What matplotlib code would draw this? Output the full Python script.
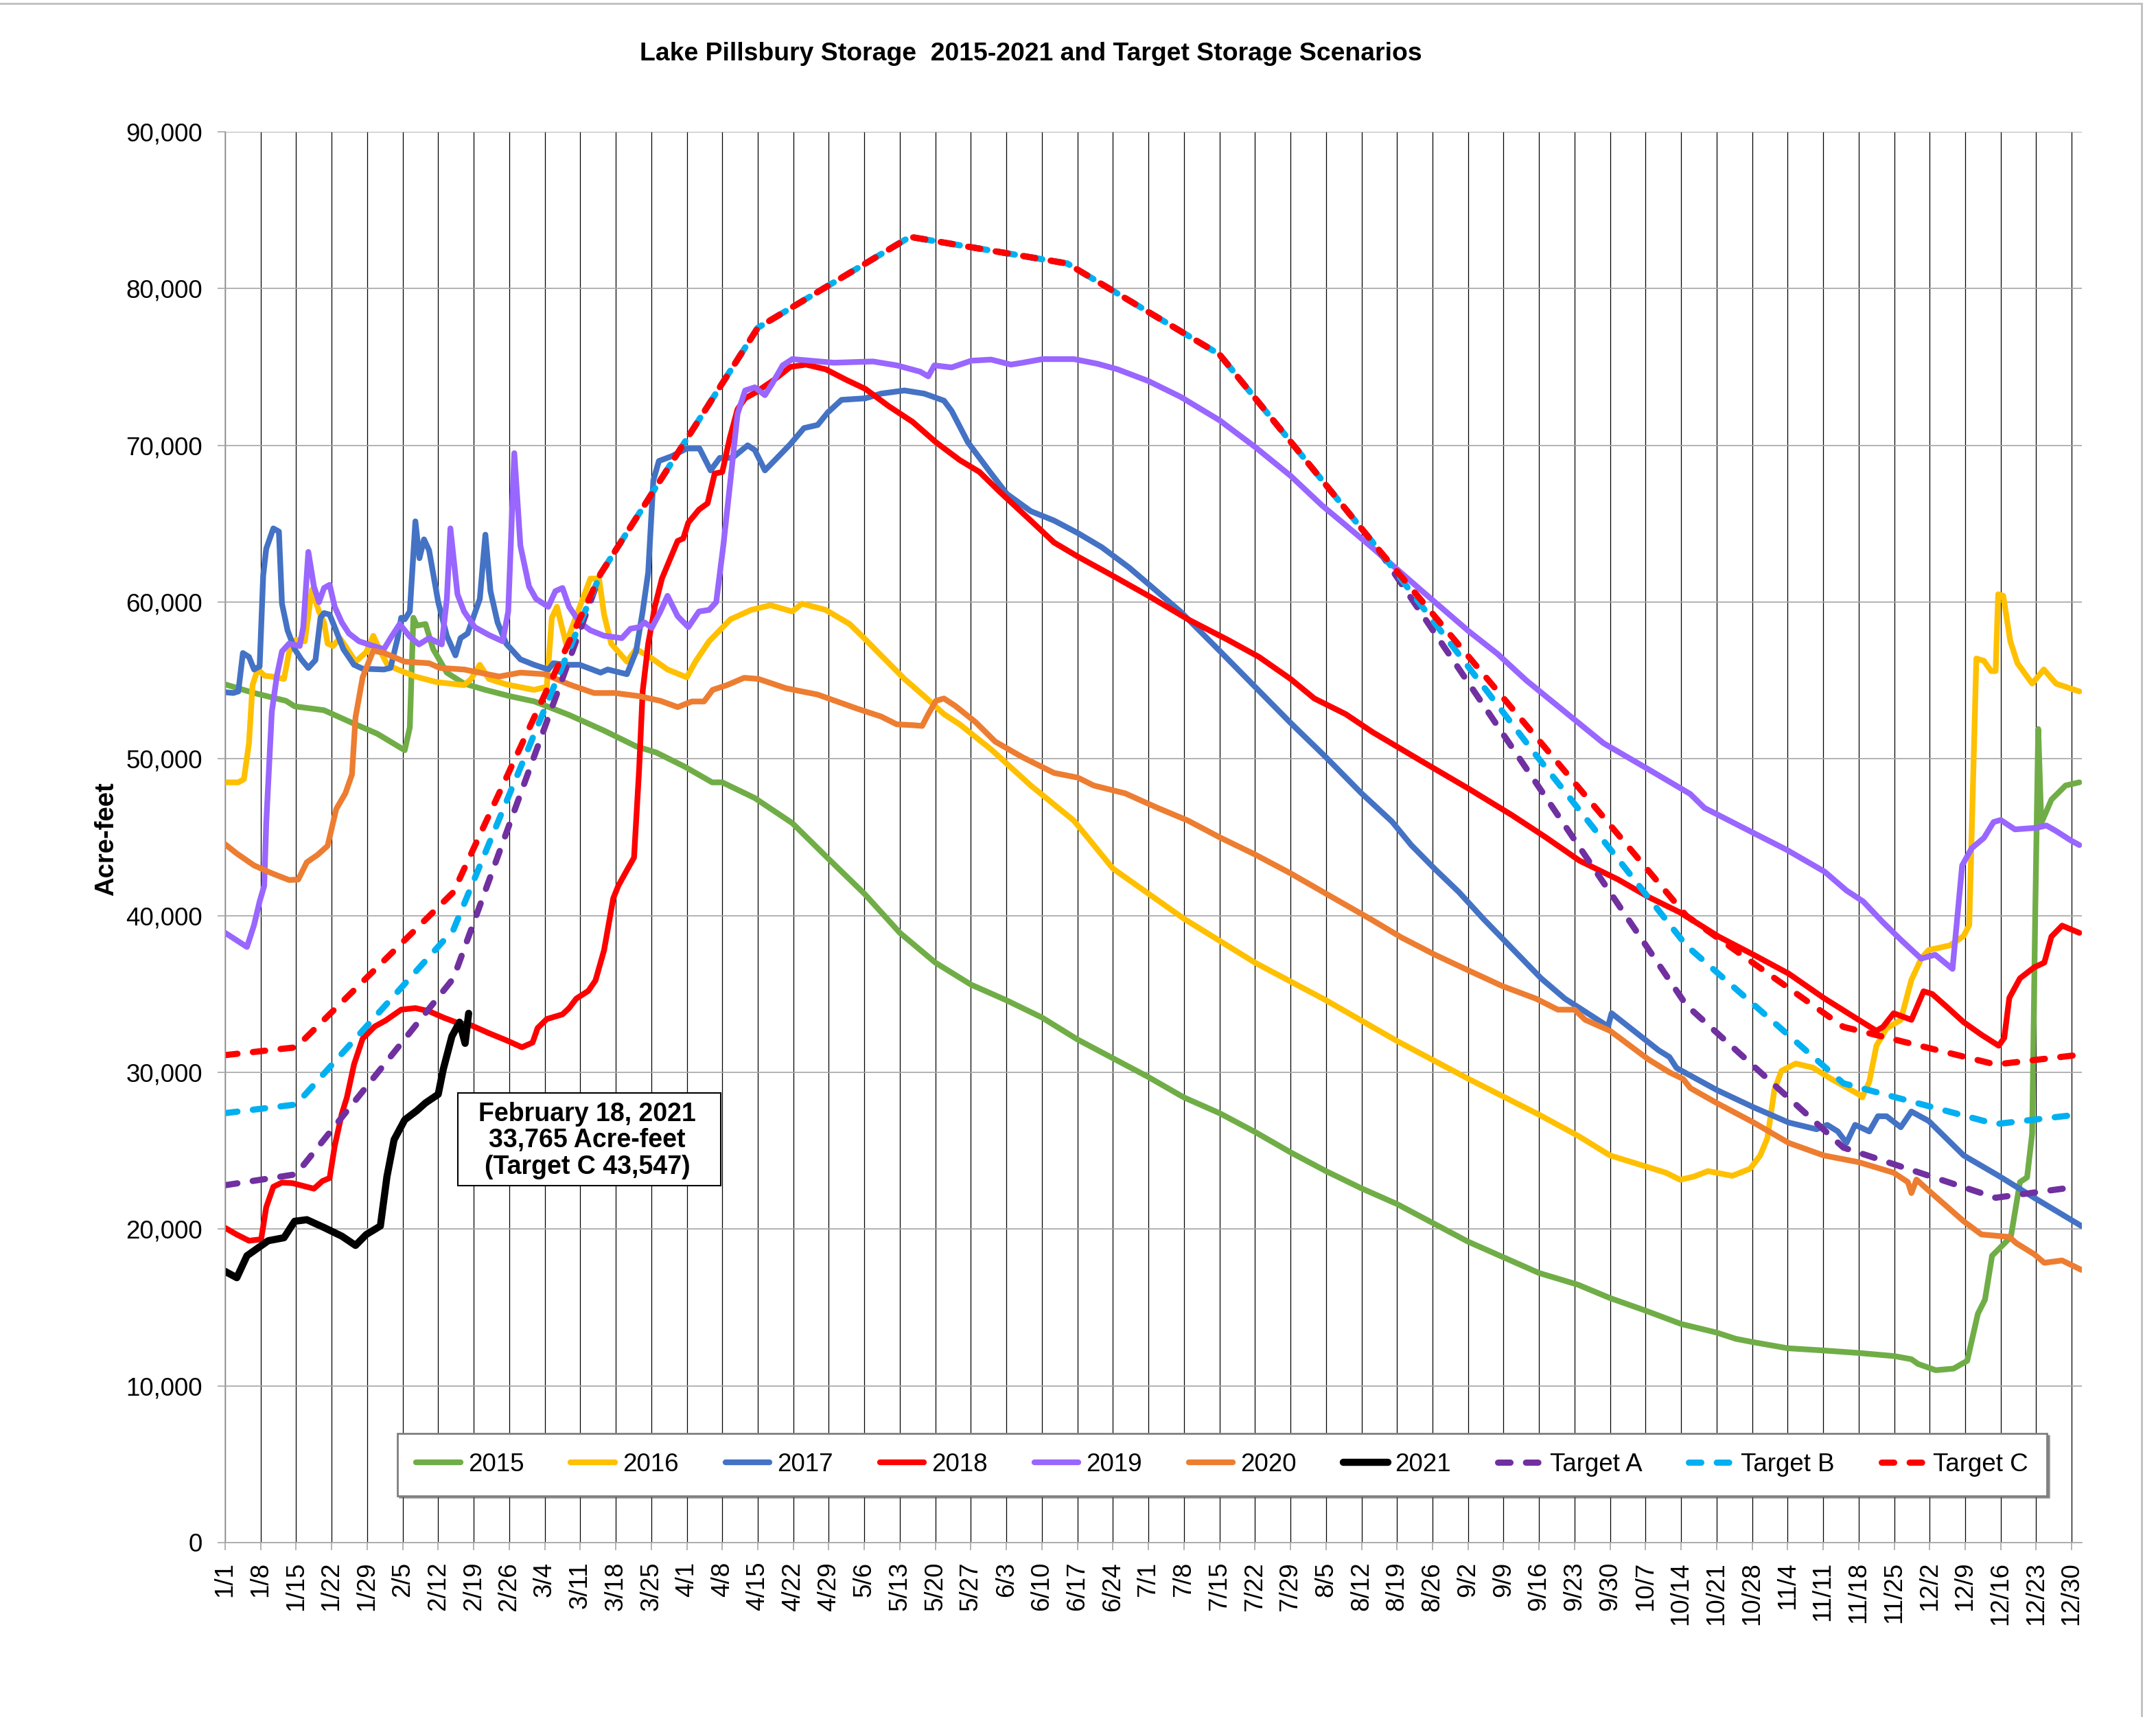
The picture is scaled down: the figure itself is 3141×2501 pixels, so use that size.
import matplotlib.pyplot as plt
from matplotlib.patches import Rectangle
from matplotlib.ticker import FuncFormatter

plt.rcParams['font.family'] = ['Liberation Sans', 'DejaVu Sans']

# x = day of year (1/1 = 0, leap-year calendar), y = storage in thousand acre-feet
tick_labels = ['1/1', '1/8', '1/15', '1/22', '1/29', '2/5', '2/12', '2/19', '2/26',
               '3/4', '3/11', '3/18', '3/25', '4/1', '4/8', '4/15', '4/22', '4/29',
               '5/6', '5/13', '5/20', '5/27', '6/3', '6/10', '6/17', '6/24', '7/1',
               '7/8', '7/15', '7/22', '7/29', '8/5', '8/12', '8/19', '8/26', '9/2',
               '9/9', '9/16', '9/23', '9/30', '10/7', '10/14', '10/21', '10/28',
               '11/4', '11/11', '11/18', '11/25', '12/2', '12/9', '12/16', '12/23', '12/30']
tick_days = [7 * i for i in range(len(tick_labels))]

s2015 = [(0, 54.75), (5.7, 54.2), (12, 53.7), (13.7, 53.35), (19.5, 53.1), (25, 52.3), (30, 51.6),
         (35.4, 50.55), (36.4, 52.0), (37.1, 59.0), (37.8, 58.5), (39.5, 58.6), (41, 57.0), (43.7, 55.5),
         (47.1, 54.8), (51.3, 54.4), (56.1, 54.0), (61, 53.66), (67.8, 52.8), (74.7, 51.8), (81, 50.8),
         (85, 50.4), (90.6, 49.5), (96, 48.5), (98, 48.5), (104.4, 47.5), (111.8, 45.9), (119, 43.6),
         (126, 41.4), (133, 38.9), (140, 37.0), (147, 35.6), (154, 34.6), (161, 33.5), (168, 32.1),
         (175, 30.9), (182, 29.7), (189, 28.4), (196, 27.4), (203, 26.2), (210, 24.9), (217, 23.7),
         (224, 22.6), (231, 21.6), (238, 20.4), (245, 19.2), (252, 18.2), (259, 17.2), (266.7, 16.45),
         (273, 15.6), (280, 14.8), (287, 13.95), (294, 13.4), (297.8, 13.0), (301, 12.8), (308, 12.4),
         (315, 12.26), (322, 12.1), (329, 11.9), (332.4, 11.7), (333.7, 11.4), (337.2, 11.0), (340.7, 11.1),
         (343.4, 11.6), (345.5, 14.6), (346.9, 15.5), (348.3, 18.3), (352, 19.5), (353.8, 23.0),
         (355.2, 23.3), (356.2, 26.1), (356.8, 40.0), (357.4, 51.9), (358, 45.9), (360, 47.4),
         (362.8, 48.3), (365.5, 48.5)]

s2016 = [(0, 48.5), (2.6, 48.5), (3.7, 48.7), (4.7, 51.0), (5.4, 54.7), (6.4, 55.7), (7.8, 55.3),
         (9.2, 55.25), (11.6, 55.1), (12.6, 56.8), (14.0, 57.6), (15.7, 57.5), (17.1, 60.8), (18.5, 59.4),
         (19.5, 58.7), (20.2, 57.35), (21.3, 57.2), (22.6, 57.7), (23.7, 57.2), (25.7, 56.2), (27.8, 56.8),
         (29.2, 57.85), (30.6, 56.85), (32.0, 56.0), (34.0, 55.7), (37.5, 55.25), (41.6, 54.9), (47.1, 54.7),
         (48.5, 55.1), (50.2, 56.0), (52.0, 55.1), (55.4, 54.75), (60.9, 54.4), (63.4, 54.6), (64.4, 59.0),
         (65.4, 59.7), (67.2, 57.35), (69.9, 59.7), (72, 61.5), (73.7, 61.5), (74.7, 59.2), (76.1, 57.35),
         (79.2, 56.2), (81, 57.0), (83.7, 56.5), (87.2, 55.7), (91, 55.2), (92.7, 56.2), (95.4, 57.5),
         (99.6, 58.9), (103.7, 59.5), (107.5, 59.8), (111.8, 59.4), (113.7, 59.9), (118.4, 59.5),
         (123.1, 58.6), (125.8, 57.75), (129.3, 56.6), (133.9, 55.1), (137.8, 54.0), (141.7, 52.85),
         (144.8, 52.2), (151, 50.6), (158.8, 48.3), (167.3, 46.06), (175, 43.0), (189, 39.8), (203, 37.0),
         (217, 34.6), (231, 32.0), (245, 29.6), (259, 27.3), (266.7, 25.95), (273, 24.7), (280, 24.0),
         (284, 23.6), (286.8, 23.15), (289.5, 23.35), (292.3, 23.7), (297.1, 23.4), (300.6, 23.85),
         (302.6, 24.7), (304, 25.8), (305.4, 28.9), (306.8, 30.1), (309.6, 30.56), (313, 30.3),
         (316.5, 29.6), (322, 28.6), (322.7, 28.4), (324.1, 29.4), (325.5, 31.7), (327.5, 32.8),
         (330.3, 33.35), (332.4, 35.9), (334.4, 37.3), (335.8, 37.8), (340, 38.1), (342.7, 38.7),
         (343.8, 39.4), (345.2, 56.4), (346.7, 56.25), (348.1, 55.6), (349, 55.6), (349.5, 60.5),
         (350.5, 60.4), (351.9, 57.5), (353.3, 56.1), (356.2, 54.8), (358.5, 55.7), (360.9, 54.8),
         (365.5, 54.3)]

s2017 = [(0, 54.25), (1.6, 54.2), (2.6, 54.3), (3.5, 56.75), (4.7, 56.5), (5.7, 55.7), (6.8, 55.9),
         (7.5, 61.7), (8.1, 63.4), (9.5, 64.7), (10.6, 64.5), (11.2, 59.9), (12.3, 58.2), (13.7, 57.0),
         (15, 56.35), (16.4, 55.8), (17.8, 56.3), (18.8, 59.0), (19.5, 59.3), (20.6, 59.2), (21.6, 58.4),
         (23.3, 57.0), (25.4, 56.0), (27.1, 55.75), (31.3, 55.7), (32.6, 55.8), (34.0, 57.7), (34.7, 59.0),
         (35.4, 58.9), (36.4, 59.4), (37.5, 65.15), (38.3, 62.8), (39.2, 64.0), (40.2, 63.3), (42, 60.0),
         (43.7, 57.85), (45.4, 56.6), (46.4, 57.7), (47.8, 58.0), (50.2, 60.2), (51.3, 64.3), (52.3, 60.7),
         (53.7, 58.7), (55.4, 57.35), (58.2, 56.35), (60.9, 56.0), (63.7, 55.7), (64.7, 56.1), (67.2, 56.0),
         (69.9, 56.0), (74, 55.5), (75.4, 55.7), (79.2, 55.4), (81, 56.85), (82.3, 59.4), (83.4, 61.9),
         (84.4, 67.75), (85.5, 69.0), (88, 69.3), (91, 69.8), (93.5, 69.8), (95.7, 68.4), (97.5, 69.2),
         (100, 69.2), (103, 70.0), (104.4, 69.7), (106.4, 68.4), (109.1, 69.3), (111.4, 70.07),
         (114.1, 71.1), (116.8, 71.3), (118.8, 72.1), (121.5, 72.9), (126.2, 73.0), (129.3, 73.3),
         (133.9, 73.5), (137.8, 73.3), (141.7, 72.85), (143.2, 72.2), (146.4, 70.2), (151, 68.2),
         (154.1, 66.9), (158.8, 65.8), (163.4, 65.2), (168.1, 64.4), (172.8, 63.5), (178.2, 62.2),
         (182, 61.15), (188.3, 59.4), (196, 56.9), (203, 54.6), (210, 52.3), (217, 50.1), (224, 47.8),
         (230, 46.0), (233.8, 44.5), (238.5, 42.96), (243.2, 41.5), (248, 39.8), (253.7, 37.9),
         (259.4, 36.0), (264.1, 34.7), (267, 34.1), (272.6, 32.93), (273.3, 33.77), (277.1, 32.8),
         (282.6, 31.4), (284.7, 30.98), (286.1, 30.28), (294, 28.88), (301.3, 27.77), (308.2, 26.8),
         (313.7, 26.37), (315.8, 26.65), (317.9, 26.23), (319.6, 25.5), (321.3, 26.65), (324.1, 26.23),
         (325.8, 27.2), (327.5, 27.2), (330.3, 26.5), (332.4, 27.5), (335.8, 26.9), (342.7, 24.7),
         (349.6, 23.4), (356.6, 22.0), (365.9, 20.2)]

s2018 = [(0, 20.08), (2.3, 19.65), (4.7, 19.26), (7.1, 19.35), (8.1, 21.4), (9.5, 22.7), (11.2, 22.97),
         (13.3, 22.93), (17.5, 22.58), (19.2, 23.07), (20.6, 23.26), (21.6, 25.3), (23, 27.36), (24, 28.4),
         (25.4, 30.5), (27.1, 32.15), (29.5, 32.93), (31.6, 33.3), (34.7, 34.0), (37.5, 34.1), (40.2, 33.9),
         (43, 33.5), (45.8, 33.16), (48.5, 33.0), (52, 32.5), (55.4, 32.05), (58.5, 31.6), (60.6, 31.9),
         (61.6, 32.83), (63.4, 33.4), (66.5, 33.7), (67.8, 34.1), (69.2, 34.7), (71.6, 35.2), (73, 35.86),
         (74.7, 37.8), (76.5, 41.1), (77.5, 41.9), (79.2, 42.9), (80.6, 43.7), (81.6, 49.3), (82.3, 54.3),
         (83.4, 57.35), (84.7, 59.7), (86.1, 61.5), (87.9, 62.9), (89.2, 63.9), (90.3, 64.06), (91.3, 65.07),
         (93.4, 65.9), (95.1, 66.3), (96.5, 68.2), (98, 68.3), (99.5, 70.5), (101, 72.3), (102.5, 73.0),
         (104.4, 73.34), (108.3, 74.2), (111.4, 75.0), (114.5, 75.15), (118.4, 74.85), (122.3, 74.2),
         (126.2, 73.6), (130.8, 72.5), (135.5, 71.5), (140.1, 70.2), (144.8, 69.06), (148.7, 68.3),
         (152.6, 67.06), (158.8, 65.2), (163.4, 63.8), (168.1, 62.9), (174.3, 61.8), (182, 60.4),
         (189.8, 58.9), (197.6, 57.6), (203.8, 56.5), (210, 55.1), (214.7, 53.85), (220.9, 52.85),
         (226.2, 51.7), (235.6, 49.9), (245.1, 48.1), (253.7, 46.4), (260.3, 45.0), (267, 43.5),
         (274.6, 42.3), (280.5, 41.2), (286.8, 40.2), (294.4, 38.66), (301.3, 37.5), (308.2, 36.3),
         (315.1, 34.75), (322, 33.35), (325.5, 32.65), (326.8, 32.9), (328.9, 33.77), (332.4, 33.35),
         (334.8, 35.17), (336.5, 35.0), (339.3, 34.2), (342.7, 33.2), (346.2, 32.4), (349.6, 31.7),
         (350.7, 32.2), (351.7, 34.75), (353.8, 36.0), (356.6, 36.7), (358.6, 37.0), (360, 38.66),
         (362.1, 39.36), (365.5, 38.9)]

s2019 = [(0, 38.9), (4.3, 38.0), (5.7, 39.4), (6.8, 40.9), (7.7, 41.9), (8.1, 45.9), (9.2, 53.0),
         (10.2, 55.3), (11.2, 56.85), (12.6, 57.35), (14.7, 57.2), (15.4, 58.4), (16.4, 63.2), (17.5, 61.0),
         (18.5, 60.0), (19.5, 60.9), (20.6, 61.1), (21.6, 59.7), (23, 58.7), (24.4, 58.0), (26.4, 57.5),
         (29.2, 57.2), (31.3, 57.0), (32.6, 57.7), (34.4, 58.6), (36.4, 57.8), (38.2, 57.3), (40.2, 57.7),
         (42.7, 57.3), (43.7, 60.2), (44.4, 64.7), (45.8, 60.5), (47.1, 59.4), (49.2, 58.4), (52, 57.9),
         (54.7, 57.5), (55.8, 59.4), (57, 69.5), (58.2, 63.6), (59.9, 61.0), (61.3, 60.2), (63.7, 59.7),
         (65.1, 60.7), (66.5, 60.9), (67.8, 59.7), (69.9, 58.7), (72, 58.2), (74.7, 57.85), (78.2, 57.7),
         (79.9, 58.3), (81.6, 58.4), (82.7, 58.7), (84.1, 58.35), (85.8, 59.4), (87.2, 60.4), (89.2, 59.1),
         (91.3, 58.4), (93.4, 59.4), (95.4, 59.5), (96.8, 60.0), (98.2, 63.6), (99.6, 67.75), (101, 72.0),
         (102.5, 73.5), (104.4, 73.7), (106.4, 73.2), (107.9, 73.97), (109.9, 75.1), (111.8, 75.5),
         (120, 75.27), (127.7, 75.35), (132.4, 75.1), (137, 74.7), (138.6, 74.4), (139.8, 75.1),
         (143.2, 74.97), (147.1, 75.4), (151, 75.47), (154.9, 75.15), (157.2, 75.27), (161.1, 75.5),
         (167.3, 75.5), (172, 75.2), (175.9, 74.85), (182, 74.1), (188.3, 73.1), (196, 71.6), (203, 69.9),
         (210, 68.06), (216.2, 66.17), (220.9, 64.9), (226.2, 63.45), (235.6, 60.8), (245.1, 58.15),
         (250.8, 56.7), (256.5, 55.0), (264.1, 53.0), (271.7, 51.0), (280.2, 49.4), (288.8, 47.76),
         (291.6, 46.87), (301.1, 45.3), (307.8, 44.2), (315.3, 42.8), (319.6, 41.6), (322.9, 40.9),
         (326.7, 39.6), (330.5, 38.4), (334.3, 37.26), (337.1, 37.5), (340.5, 36.6), (342.4, 43.2),
         (344.3, 44.3), (346.7, 44.96), (348.6, 45.97), (350, 46.1), (352.8, 45.5), (357.1, 45.6),
         (359, 45.75), (360.9, 45.4), (363.8, 44.8), (365.5, 44.5)]

s2020 = [(0, 44.55), (2.3, 43.96), (5.7, 43.2), (9.2, 42.7), (12.6, 42.27), (14.4, 42.3), (16.1, 43.4),
         (18.2, 43.87), (20.2, 44.45), (21.9, 46.8), (23.7, 47.8), (25, 49.0), (25.7, 52.65), (27.1, 55.2),
         (29.2, 56.9), (31.3, 56.76), (35.4, 56.2), (40.2, 56.1), (42.3, 55.8), (47.1, 55.7), (54, 55.25),
         (58.2, 55.5), (63, 55.4), (67.8, 54.75), (72.7, 54.2), (76.8, 54.2), (81.6, 54.0), (85.8, 53.7),
         (89.2, 53.3), (92, 53.66), (94.4, 53.66), (96.1, 54.4), (98.9, 54.7), (102.3, 55.17), (105.1, 55.1),
         (110.6, 54.5), (116.8, 54.1), (124.6, 53.2), (129.3, 52.7), (132.4, 52.2), (135.5, 52.15),
         (137.4, 52.1), (138.6, 52.85), (140.1, 53.7), (141.7, 53.85), (144, 53.36), (147.9, 52.35),
         (151.8, 51.1), (157.2, 50.1), (163.4, 49.1), (168.1, 48.8), (171.2, 48.3), (177.4, 47.8),
         (183.6, 46.9), (189.8, 46.06), (196, 45.0), (203, 43.9), (210, 42.7), (217, 41.4), (226.2, 39.7),
         (231.9, 38.6), (238.5, 37.5), (245.1, 36.5), (251.8, 35.5), (258.4, 34.7), (262.7, 34.0),
         (266, 34.0), (268.1, 33.35), (273, 32.65), (280.5, 30.84), (284.7, 30.0), (287.4, 29.58),
         (288.8, 29.0), (294, 28.05), (301.3, 26.8), (308.2, 25.5), (315.1, 24.7), (322, 24.27),
         (328.9, 23.6), (331.7, 23.0), (332.4, 22.3), (333.4, 23.16), (335.8, 22.46), (342.7, 20.5),
         (346.2, 19.66), (351.7, 19.5), (353.1, 19.1), (356.6, 18.4), (358.6, 17.85), (362.1, 18.0),
         (365.9, 17.4)]

s2021 = [(0, 17.3), (2.3, 16.9), (4.3, 18.3), (8.5, 19.26), (11.6, 19.45), (13.7, 20.5), (16.1, 20.6),
         (19.5, 20.1), (23, 19.55), (25.7, 18.96), (27.8, 19.65), (30.6, 20.2), (31.9, 23.36), (33.3, 25.7),
         (35.4, 26.97), (37.8, 27.56), (39.5, 28.05), (42, 28.6), (43, 30.2), (44.7, 32.3), (46.2, 33.2),
         (47.3, 31.85), (48, 33.765)]

# target scenarios: mid-month break points
targetA = [(0, 22.8), (14, 23.5), (45, 36.0), (74, 61.8), (105, 77.5), (135, 83.3), (166, 81.6),
           (196, 75.8), (227, 63.5), (288, 34.3), (319, 25.2), (349, 22.0), (365, 22.7)]
targetB = [(0, 27.4), (14, 27.95), (45, 39.1), (74, 61.8), (105, 77.5), (135, 83.3), (166, 81.6),
           (196, 75.8), (227, 63.5), (258, 50.4), (288, 38.1), (319, 29.3), (349, 26.7), (365, 27.3)]
targetC = [(0, 31.1), (14, 31.6), (45, 41.5), (74, 61.8), (105, 77.5), (135, 83.3), (166, 81.6),
           (196, 75.8), (227, 63.5), (288, 40.0), (319, 32.9), (349, 30.5), (365, 31.1)]

years = [('2015', s2015, '#70AD47'), ('2016', s2016, '#FFC000'), ('2017', s2017, '#4472C4'),
         ('2018', s2018, '#FF0000'), ('2019', s2019, '#9966FF'), ('2020', s2020, '#ED7D31'),
         ('2021', s2021, '#000000')]
targets = [('Target A', targetA, '#7030A0'), ('Target B', targetB, '#00B0F0'),
           ('Target C', targetC, '#FF0000')]

W, H = 3141, 2501
fig = plt.figure(figsize=(W / 100, H / 100), dpi=100)
ax = fig.add_axes([328 / W, 1 - 2247 / H, (3033 - 328) / W, (2247 - 192) / H])

for name, pts, col in years:
    xs = [p[0] for p in pts]
    ys = [p[1] * 1000 for p in pts]
    lw = 7.5 if name == '2021' else 6
    ax.plot(xs, ys, color=col, lw=lw, label=name, solid_capstyle='round', solid_joinstyle='round')

for name, pts, col in targets:
    xs = [p[0] for p in pts]
    ys = [p[1] * 1000 for p in pts]
    ax.plot(xs, ys, color=col, lw=6.5, label=name, dashes=(2.0, 2.5),
            dash_capstyle='round', dash_joinstyle='round')

ax.set_xlim(0, 366)
ax.set_ylim(0, 90000)
ax.set_yticks(range(0, 90001, 10000))
ax.yaxis.set_major_formatter(FuncFormatter(lambda v, p: '{:,.0f}'.format(v)))
ax.set_xticks(tick_days)
ax.set_xticklabels(tick_labels, rotation=90)

ax.set_axisbelow(True)
ax.yaxis.grid(True, color='#a6a6a6', lw=1.2)
ax.xaxis.grid(True, color='#000000', lw=0.9)
for s in ['top', 'right']:
    ax.spines[s].set_visible(False)
for s in ['left', 'bottom']:
    ax.spines[s].set_color('#a6a6a6')
    ax.spines[s].set_linewidth(1.2)
ax.tick_params(axis='both', direction='out', length=8, width=1.2, color='#a6a6a6', labelsize=26.5)
ax.tick_params(axis='x', pad=12)
ax.tick_params(axis='y', pad=16)

# annotation box for the latest reading
ax.add_patch(Rectangle((45.85, 22780), 97.66 - 45.85, 28690 - 22780, fc='white', ec='black',
                       lw=1.5, zorder=5))
ax.text(71.4, 25650, 'February 18, 2021\n33,765 Acre-feet\n(Target C 43,547)',
        ha='center', va='center', fontsize=27, fontweight='bold', linespacing=1.1, zorder=6)

leg = ax.legend(loc='center', bbox_to_anchor=(0.537, 0.0552), ncol=10, fontsize=26.5,
                frameon=True, fancybox=False, shadow=True, handlelength=1.75,
                handletextpad=0.3, columnspacing=1.85, borderpad=0.75)
leg.get_frame().set_edgecolor('#7f7f7f')
leg.get_frame().set_linewidth(2)

fig.text(1502 / W, 1 - 78 / H, 'Lake Pillsbury Storage  2015-2021 and Target Storage Scenarios',
         ha='center', va='center', fontsize=26.9, fontweight='bold')
fig.text(155 / W, 1 - 1222 / H, 'Acre-feet', rotation=90, ha='center', va='center',
         fontsize=27.5, fontweight='bold')

fig.patches.append(Rectangle((-0.01, -0.01), 3120 / W + 0.01, 1 - 5 / H + 0.01,
                             transform=fig.transFigure, fill=False, ec='#bfbfbf', lw=2))

fig.savefig('out.png', dpi=100)
